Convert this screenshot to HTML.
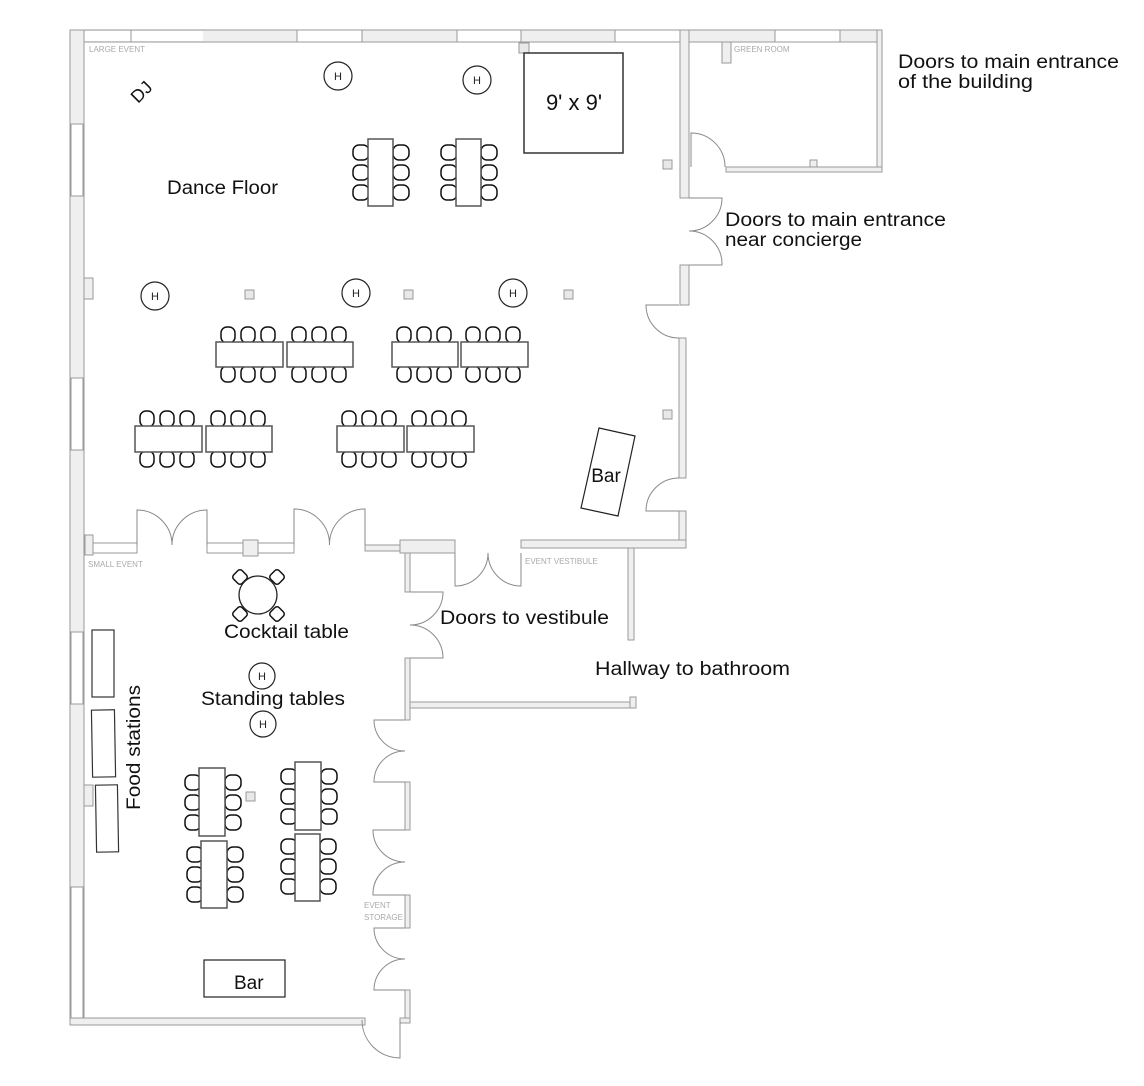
<!DOCTYPE html>
<html><head><meta charset="utf-8"><style>
html,body{margin:0;padding:0;background:#fff;}
svg{display:block;}
text{font-family:"Liberation Sans",sans-serif;}
.w{fill:#efefef;stroke:#9a9a9a;stroke-width:1;}
.wt{fill:#fff;stroke:#9a9a9a;stroke-width:1;}
.d{fill:none;stroke:#8a8a8a;stroke-width:1;}
.t{fill:#fff;stroke:#555;stroke-width:1.5;}
.c{fill:#fff;stroke:#111;stroke-width:1.5;}
.h{fill:#fff;stroke:#222;stroke-width:1.2;}
.col{fill:#e8e8e8;stroke:#999;stroke-width:1;}
.lab{font-size:19px;fill:#111;}
.sm{font-size:8px;fill:#aaa;}
</style></head><body>
<svg width="1144" height="1086" viewBox="0 0 1144 1086" xmlns="http://www.w3.org/2000/svg">
<defs>
<g id="chV"><rect x="0" y="0" width="16" height="15" rx="6" class="c"/></g>
<g id="chH"><rect x="0" y="0" width="14" height="16" rx="6" class="c"/></g>
</defs>

<rect x="70" y="30" width="612" height="12" class="w"/>
<rect x="84" y="31" width="119" height="10" class="wt" style="stroke:none"/>
<line x1="131" y1="30" x2="131" y2="42" stroke="#9a9a9a"/>
<rect x="297" y="30" width="65" height="12" class="wt"/>
<rect x="457" y="30" width="64" height="12" class="wt"/>
<rect x="615" y="30" width="65" height="12" class="wt"/>
<line x1="84" y1="42" x2="680" y2="42" stroke="#9a9a9a"/>
<rect x="70" y="30" width="14" height="995" class="w"/>
<rect x="71" y="124" width="12" height="72" class="wt"/>
<rect x="71" y="378" width="12" height="72" class="wt"/>
<rect x="71" y="632" width="12" height="72" class="wt"/>
<rect x="71" y="887" width="12" height="131" class="wt"/>
<rect x="84" y="278" width="9" height="21" class="w"/>
<rect x="84" y="785" width="9" height="21" class="w"/>

<rect x="689" y="30" width="193" height="12" class="w"/>
<rect x="775" y="30" width="65" height="12" class="wt"/>
<rect x="877" y="30" width="5" height="142" class="w"/>
<rect x="726" y="167" width="156" height="5" class="w"/>
<rect x="810" y="160" width="7" height="7" class="w"/>
<rect x="722" y="42" width="9" height="21" class="w"/>
<path class="d" d="M691 167 V133 A34 34 0 0 1 725 167"/>

<rect x="680" y="30" width="9" height="168" class="w"/>
<rect x="680" y="265" width="9" height="40" class="w"/>
<rect x="679" y="338" width="7" height="140" class="w"/>
<rect x="679" y="511" width="7" height="36" class="w"/>
<path class="d" d="M689 198 H722 A33 33 0 0 1 689 231 M689 265 H722 A33 33 0 0 0 689 231"/>
<path class="d" d="M679 305 H646 A33 33 0 0 0 679 338"/>
<path class="d" d="M679 511 H646 A33 33 0 0 1 679 478"/>

<rect x="521" y="540" width="165" height="8" class="w"/>
<rect x="400" y="540" width="55" height="13" class="w"/>
<rect x="365" y="545" width="35" height="6" class="w"/>
<rect x="207" y="543" width="87" height="10" class="wt"/>
<rect x="243" y="540" width="15" height="16" class="w"/>
<rect x="93" y="543" width="44" height="10" class="wt"/>
<rect x="85" y="535" width="8" height="20" class="w"/>
<path class="d" d="M137 545 V510 A35 35 0 0 1 172 545 M207 545 V510 A35 35 0 0 0 172 545"/>
<path class="d" d="M294 545 V509 A35.5 35.5 0 0 1 329.5 545 M365 545 V509 A35.5 35.5 0 0 0 329.5 545"/>
<path class="d" d="M455 553 V586 A33 33 0 0 0 488 553 M521 553 V586 A33 33 0 0 1 488 553"/>

<rect x="628" y="548" width="6" height="92" class="w"/>
<rect x="405" y="553" width="5" height="39" class="w"/>
<rect x="405" y="658" width="5" height="62" class="w"/>
<rect x="410" y="702" width="226" height="6" class="w"/>
<rect x="630" y="697" width="6" height="11" class="w"/>
<path class="d" d="M410 592 H443 A33 33 0 0 1 410 625 M410 658 H443 A33 33 0 0 0 410 625"/>

<rect x="405" y="782" width="5" height="48" class="w"/>
<rect x="405" y="895" width="5" height="33" class="w"/>
<rect x="405" y="990" width="5" height="32" class="w"/>
<path class="d" d="M405 720 H374 A31 31 0 0 0 405 751 M405 782 H374 A31 31 0 0 1 405 751"/>
<path class="d" d="M405 830 H373 A32 32 0 0 0 405 862 M405 895 H373 A32 32 0 0 1 405 862"/>
<path class="d" d="M405 928 H374 A31 31 0 0 0 405 959 M405 990 H374 A31 31 0 0 1 405 959"/>
<rect x="70" y="1018" width="295" height="7" class="w"/>
<rect x="400" y="1018" width="10" height="5" class="w"/>
<path class="d" d="M400 1020 V1058 A38 38 0 0 1 362 1020"/>

<rect x="519" y="43" width="10" height="10" class="col"/>
<rect x="245" y="290" width="9" height="9" class="col"/>
<rect x="404" y="290" width="9" height="9" class="col"/>
<rect x="564" y="290" width="9" height="9" class="col"/>
<rect x="663" y="160" width="9" height="9" class="col"/>
<rect x="663" y="410" width="9" height="9" class="col"/>
<rect x="246" y="792" width="9" height="9" class="col"/>

<rect x="524" y="53" width="99" height="100" fill="#fff" stroke="#333" stroke-width="1.5"/>
<text x="574" y="110" font-size="22" text-anchor="middle" fill="#111">9' x 9'</text>

<g font-size="11" text-anchor="middle" fill="#222">
<circle cx="338" cy="76" r="14" class="h"/><text x="338" y="80">H</text>
<circle cx="477" cy="80" r="14" class="h"/><text x="477" y="84">H</text>
<circle cx="155" cy="296" r="14" class="h"/><text x="155" y="300">H</text>
<circle cx="356" cy="293" r="14" class="h"/><text x="356" y="297">H</text>
<circle cx="513" cy="293" r="14" class="h"/><text x="513" y="297">H</text>
<circle cx="262" cy="676" r="13" class="h"/><text x="262" y="680">H</text>
<circle cx="263" cy="724" r="13" class="h"/><text x="263" y="728">H</text>
</g>

<text transform="translate(138,104) rotate(-45)" font-size="18" fill="#111">DJ</text>

<g>
<use href="#chV" x="353" y="145"/><use href="#chV" x="353" y="165"/><use href="#chV" x="353" y="185"/>
<use href="#chV" x="393" y="145"/><use href="#chV" x="393" y="165"/><use href="#chV" x="393" y="185"/>
<rect x="368" y="139" width="25" height="67" class="t"/>
<use href="#chV" x="441" y="145"/><use href="#chV" x="441" y="165"/><use href="#chV" x="441" y="185"/>
<use href="#chV" x="481" y="145"/><use href="#chV" x="481" y="165"/><use href="#chV" x="481" y="185"/>
<rect x="456" y="139" width="25" height="67" class="t"/>
</g>

<g>
<use href="#chH" x="221" y="327"/><use href="#chH" x="241" y="327"/><use href="#chH" x="261" y="327"/>
<use href="#chH" x="221" y="366"/><use href="#chH" x="241" y="366"/><use href="#chH" x="261" y="366"/>
<use href="#chH" x="292" y="327"/><use href="#chH" x="312" y="327"/><use href="#chH" x="332" y="327"/>
<use href="#chH" x="292" y="366"/><use href="#chH" x="312" y="366"/><use href="#chH" x="332" y="366"/>
<rect x="216" y="342" width="67" height="25" class="t"/>
<rect x="287" y="342" width="66" height="25" class="t"/>
<use href="#chH" x="397" y="327"/><use href="#chH" x="417" y="327"/><use href="#chH" x="437" y="327"/>
<use href="#chH" x="397" y="366"/><use href="#chH" x="417" y="366"/><use href="#chH" x="437" y="366"/>
<use href="#chH" x="466" y="327"/><use href="#chH" x="486" y="327"/><use href="#chH" x="506" y="327"/>
<use href="#chH" x="466" y="366"/><use href="#chH" x="486" y="366"/><use href="#chH" x="506" y="366"/>
<rect x="392" y="342" width="66" height="25" class="t"/>
<rect x="461" y="342" width="67" height="25" class="t"/>
</g>
<g>
<use href="#chH" x="140" y="411"/><use href="#chH" x="160" y="411"/><use href="#chH" x="180" y="411"/>
<use href="#chH" x="140" y="451"/><use href="#chH" x="160" y="451"/><use href="#chH" x="180" y="451"/>
<use href="#chH" x="211" y="411"/><use href="#chH" x="231" y="411"/><use href="#chH" x="251" y="411"/>
<use href="#chH" x="211" y="451"/><use href="#chH" x="231" y="451"/><use href="#chH" x="251" y="451"/>
<rect x="135" y="426" width="67" height="26" class="t"/>
<rect x="206" y="426" width="66" height="26" class="t"/>
<use href="#chH" x="342" y="411"/><use href="#chH" x="362" y="411"/><use href="#chH" x="382" y="411"/>
<use href="#chH" x="342" y="451"/><use href="#chH" x="362" y="451"/><use href="#chH" x="382" y="451"/>
<use href="#chH" x="412" y="411"/><use href="#chH" x="432" y="411"/><use href="#chH" x="452" y="411"/>
<use href="#chH" x="412" y="451"/><use href="#chH" x="432" y="451"/><use href="#chH" x="452" y="451"/>
<rect x="337" y="426" width="67" height="26" class="t"/>
<rect x="407" y="426" width="67" height="26" class="t"/>
</g>

<polygon points="599,428 635,436 618,516 581,508" fill="#fff" stroke="#222" stroke-width="1.2"/>
<text x="606" y="482" class="lab" text-anchor="middle">Bar</text>

<g transform="translate(240,577) rotate(45)"><rect x="-6" y="-6" width="12" height="12" rx="3" class="c"/></g>
<g transform="translate(277,577) rotate(45)"><rect x="-6" y="-6" width="12" height="12" rx="3" class="c"/></g>
<g transform="translate(240,614) rotate(45)"><rect x="-6" y="-6" width="12" height="12" rx="3" class="c"/></g>
<g transform="translate(277,614) rotate(45)"><rect x="-6" y="-6" width="12" height="12" rx="3" class="c"/></g>
<circle cx="258" cy="595" r="19" fill="#fff" stroke="#222" stroke-width="1.3"/>

<rect x="92" y="630" width="22" height="67" fill="#fff" stroke="#333" stroke-width="1.2"/>
<rect x="92" y="710" width="23" height="67" fill="#fff" stroke="#333" stroke-width="1.2" transform="rotate(-1 103 743)"/>
<rect x="96" y="785" width="22" height="67" fill="#fff" stroke="#333" stroke-width="1.2" transform="rotate(-1 107 818)"/>

<g>
<use href="#chV" x="185" y="775"/><use href="#chV" x="185" y="795"/><use href="#chV" x="185" y="815"/>
<use href="#chV" x="225" y="775"/><use href="#chV" x="225" y="795"/><use href="#chV" x="225" y="815"/>
<rect x="199" y="768" width="26" height="68" class="t"/>
<use href="#chV" x="187" y="847"/><use href="#chV" x="187" y="867"/><use href="#chV" x="187" y="887"/>
<use href="#chV" x="227" y="847"/><use href="#chV" x="227" y="867"/><use href="#chV" x="227" y="887"/>
<rect x="201" y="841" width="26" height="67" class="t"/>
<use href="#chV" x="281" y="769"/><use href="#chV" x="281" y="789"/><use href="#chV" x="281" y="809"/>
<use href="#chV" x="321" y="769"/><use href="#chV" x="321" y="789"/><use href="#chV" x="321" y="809"/>
<rect x="295" y="762" width="26" height="68" class="t"/>
<use href="#chV" x="281" y="839"/><use href="#chV" x="281" y="859"/><use href="#chV" x="281" y="879"/>
<use href="#chV" x="320" y="839"/><use href="#chV" x="320" y="859"/><use href="#chV" x="320" y="879"/>
<rect x="295" y="834" width="25" height="67" class="t"/>
</g>

<rect x="204" y="960" width="81" height="37" fill="#fff" stroke="#222" stroke-width="1.2"/>
<text x="234" y="989" class="lab">Bar</text>

<text x="89" y="52" class="sm">LARGE EVENT</text>
<text x="734" y="52" class="sm">GREEN ROOM</text>
<text x="88" y="567" class="sm">SMALL EVENT</text>
<text x="525" y="564" class="sm">EVENT VESTIBULE</text>
<text x="364" y="908" class="sm">EVENT</text>
<text x="364" y="920" class="sm">STORAGE</text>

<text x="167" y="194" class="lab" textLength="111" lengthAdjust="spacingAndGlyphs">Dance Floor</text>
<text x="898" y="68" class="lab" textLength="221" lengthAdjust="spacingAndGlyphs">Doors to main entrance</text>
<text x="898" y="88" class="lab" textLength="135" lengthAdjust="spacingAndGlyphs">of the building</text>
<text x="725" y="226" class="lab" textLength="221" lengthAdjust="spacingAndGlyphs">Doors to main entrance</text>
<text x="725" y="246" class="lab" textLength="137" lengthAdjust="spacingAndGlyphs">near concierge</text>
<text x="440" y="624" class="lab" textLength="169" lengthAdjust="spacingAndGlyphs">Doors to vestibule</text>
<text x="595" y="675" class="lab" textLength="195" lengthAdjust="spacingAndGlyphs">Hallway to bathroom</text>
<text x="224" y="638" class="lab" textLength="125" lengthAdjust="spacingAndGlyphs">Cocktail table</text>
<text x="201" y="705" class="lab" textLength="144" lengthAdjust="spacingAndGlyphs">Standing tables</text>
<text transform="translate(140,810) rotate(-90)" class="lab" textLength="125" lengthAdjust="spacingAndGlyphs">Food stations</text>
</svg>
</body></html>
